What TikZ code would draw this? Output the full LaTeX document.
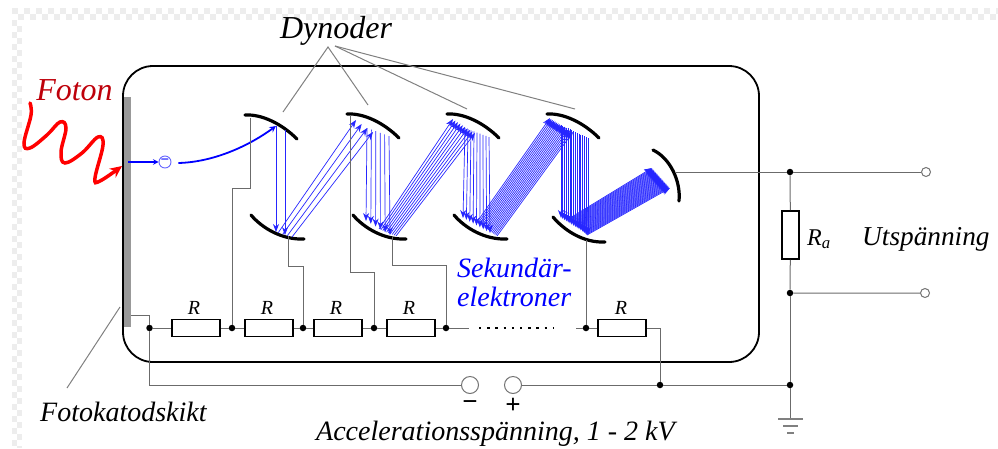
\documentclass[tikz,border=0pt]{standalone}
\usepackage{fontspec}
\setmainfont{Liberation Serif}
\usetikzlibrary{arrows.meta,calc,shapes}

\tikzset{
    wire/.style={draw=black!58, line width=1pt},
    leader/.style={draw=black!50, line width=1pt},
    res/.style={draw, rectangle, line width=1.6pt, fill=white, minimum width=48pt, minimum height=17pt, inner sep=0pt},
    junction/.style={circle, fill=black, minimum size=6.5pt, inner sep=0pt},
    terminal/.style={draw=black!55, circle, fill=white, line width=1pt, inner sep=0pt},
    dynode/.style={line width=3.2pt, line cap=round},
    beam/.style={draw=blue!85, line width=0.7pt, -{Stealth[length=8pt,width=6pt]}},
    caption/.style={font=\itshape\fontsize{28}{30}\selectfont, inner sep=0pt},
    bigcaption/.style={font=\itshape\fontsize{32}{34}\selectfont, inner sep=0pt},
    rname/.style={font=\itshape\fontsize{20}{22}\selectfont, inner sep=0pt},
    sign/.style={font=\bfseries\fontsize{27}{27}\selectfont, inner sep=0pt},
}

% n+1 parallel electrons between two rows of points
\newcommand{\beamset}[5]{
    \foreach \i in {0,...,#5}{
        \draw[beam] ($(#1)!\i/#5!(#2)$) -- ($(#3)!\i/#5!(#4)$);
    }
}

\begin{document}
\begin{tikzpicture}[x=1pt, y=-1pt, >=stealth]
        \useasboundingbox (0,0) rectangle (998,448);

        % transparency pattern along the edge
        \draw[black!7, line width=6pt, dash pattern=on 6pt off 6pt] (12,11) -- (998,11);
        \draw[black!7, line width=6pt, dash pattern=on 6pt off 6pt, dash phase=6pt] (12,17) -- (998,17);
        \draw[black!7, line width=5pt, dash pattern=on 6pt off 6pt] (14.5,20) -- (14.5,448);
        \draw[black!7, line width=5pt, dash pattern=on 6pt off 6pt, dash phase=6pt] (19.5,20) -- (19.5,448);

        % tube and cathode
        \node (tube) [draw, rectangle, rounded corners=30pt, line width=1.8pt, minimum width=636pt, minimum height=296pt, inner sep=0pt] at (441,214) {};
        \node (cathode) [rectangle, fill=black!40, minimum width=7pt, minimum height=230pt, inner sep=0pt] at (127.5,212) {};

        % dynodes
        \coordinate (d1top) at (245,115);
        \coordinate (d1bot) at (251,215);
        \coordinate (d2top) at (347,114);
        \coordinate (d2bot) at (353,215);
        \coordinate (d3top) at (447,114);
        \coordinate (d3bot) at (454,215);
        \coordinate (d4top) at (547,114);
        \coordinate (d4bot) at (553,217);
        \coordinate (anode) at (653,150);
        \draw[dynode] (d1top) .. controls +(17,-1) and +(-15,-15) .. +(52,24);
        \draw[dynode] (d2top) .. controls +(17,-1) and +(-15,-15) .. +(52,24);
        \draw[dynode] (d3top) .. controls +(17,-1) and +(-15,-15) .. +(52,24);
        \draw[dynode] (d4top) .. controls +(17,-1) and +(-15,-15) .. +(52,24);
        \draw[dynode] (d1bot) .. controls +(11,13) and +(-22,1) .. +(53,24);
        \draw[dynode] (d2bot) .. controls +(11,13) and +(-22,1) .. +(53,24);
        \draw[dynode] (d3bot) .. controls +(11,13) and +(-22,1) .. +(53,24);
        \draw[dynode] (d4bot) .. controls +(11,13) and +(-22,1) .. +(52,25);
        \draw[dynode] (anode) .. controls +(17,8) and +(2,-20) .. +(26,51);

        % photon and first electron
        \draw[red, line width=3.5pt, line cap=round, -{Stealth[length=12pt,width=11pt]}] plot[smooth, tension=0.65] coordinates {(30,103) (31,115) (24,143) (30,148) (47,135) (60,122) (66,128) (61,152) (65,163) (82,153) (98,137) (103,145) (95,178) (100,181) (122,166)};
        \node (electron) [draw=blue!60, circle, minimum size=12pt, inner sep=0pt, text=blue, line width=0.9pt, font=\bfseries\fontsize{15}{15}\selectfont] at (165,162) {−};
        \coordinate (emit) at (128,162);
        \coordinate (hit) at (276,126);
        \draw[->, blue, line width=1.4pt] (emit) -- (electron);
        \draw[->, blue, line width=1.8pt] (electron.east)+(7,1) .. controls (215,162) and (250,145) .. (hit);

        % secondary electrons
        \beamset{276,126}{285,130}{276,232}{285,235}{1}
        \beamset{278,233}{292,237}{356,120}{373,132}{3}
        \beamset{367,128}{389,136}{366,221}{390,235}{5}
        \beamset{379,229}{396,236}{453,119}{475,133}{9}
        \beamset{465,128}{489,137}{463,218}{490,233}{8}
        \beamset{477,222}{497,236}{550,118}{573,132}{16}
        \beamset{561,125}{588,138}{561,218}{588,235}{15}
        \beamset{570,218}{587,235}{652,168}{670,188}{28}

        % resistor chain
        \node (j0) [junction] at (149.5,328) {};
        \node (r1) [res] at (196,328) {};
        \node (j1) [junction] at (232,328) {};
        \node (r2) [res] at (269,328) {};
        \node (j2) [junction] at (303,328) {};
        \node (r3) [res] at (338,328) {};
        \node (j3) [junction] at (374,328) {};
        \node (r4) [res] at (411,328) {};
        \node (j4) [junction] at (446,328) {};
        \coordinate (gapl) at (469,328);
        \coordinate (gapr) at (576,328);
        \coordinate (dotsl) at (479,328);
        \coordinate (dotsr) at (553,328);
        \node (j5) [junction] at (586,328) {};
        \node (r5) [res] at (622,328) {};
        \node (j6) [junction] at (660,385) {};
        \draw[line width=2.4pt, dash pattern=on 2.4pt off 5.8pt] (dotsl) -- (dotsr);
        \draw[wire] (j0) -- (r1) -- (j1) -- (r2) -- (j2) -- (r3) -- (j3) -- (r4) -- (j4) -- (gapl);
        \draw[wire] (gapr) -- (j5) -- (r5) -| (j6);

        \node (r1name) [rname] at (194,308) {R};
        \node (r2name) [rname] at (267,308) {R};
        \node (r3name) [rname] at (336,308) {R};
        \node (r4name) [rname] at (409,308) {R};
        \node (r5name) [rname] at (621,308) {R};

        % taps to the dynodes
        \coordinate (tap1) at (250,118);
        \coordinate (tap2) at (288,236);
        \coordinate (tap3) at (350,115);
        \coordinate (tap4) at (392,237);
        \coordinate (tap5) at (586,240);
        \draw[wire] (j1) |- (250,188) -- (tap1);
        \draw[wire] (j2) |- (288,266) -- (tap2);
        \draw[wire] (j3) |- (350,272) -- (tap3);
        \draw[wire] (j4) |- (392,265) -- (tap4);
        \draw[wire] (j5) -- (tap5);

        % supply
        \coordinate (cath) at (131,315);
        \node (minus) [terminal, minimum size=17pt] at (470,385) {};
        \node (plus) [terminal, minimum size=17pt] at (513,385) {};
        \node (j7) [junction] at (790,385) {};
        \draw[wire] (cath) -| (j0);
        \draw[wire] (j0) |- (minus);
        \draw[wire] (plus) -- (j6) -- (j7);
        \node (minussign) [sign] at (470,406) {−};
        \node (plussign) [sign] at (513,406) {+};

        % output
        \coordinate (ancontact) at (675,172);
        \node (j8) [junction] at (790,172) {};
        \node (ra) [res, minimum width=17pt, minimum height=48pt] at (790.5,235) {};
        \node (j9) [junction] at (790,293) {};
        \node (out1) [terminal, minimum size=9pt] at (926,172) {};
        \node (out2) [terminal, minimum size=9pt] at (925,293) {};
        \draw[wire] (ancontact) -- (j8) -- (out1);
        \draw[wire] (j8) -- (ra) -- (j9) -- (out2);
        \draw[wire] (j9) -- (j7);

        % ground
        \coordinate (gnd) at (790,419);
        \draw[wire] (j7) -- (gnd);
        \draw[leader, line width=1.3pt] (778,419) -- (803,419);
        \draw[leader, line width=1.3pt] (783,426) -- (798,426);
        \draw[leader, line width=1.3pt] (787,433) -- (794,433);

        % labels
        \node (dynoder) [bigcaption, anchor=base] at (336,38) {Dynoder};
        \node (foton) [bigcaption, text={rgb,255:red,190;green,0;blue,10}, anchor=base] at (74.5,100) {Foton};
        \node (fotokatod) [caption, anchor=base west] at (40,421) {Fotokatodskikt};
        \node (accel) [caption, anchor=base west] at (316,440) {Accelerationsspänning, 1 - 2 kV};
        \node (utsp) [caption, font=\itshape\fontsize{27.3}{30}\selectfont, anchor=base west] at (862,245) {Utspänning};
        \node (raname) [rname, font=\itshape\fontsize{24}{26}\selectfont, anchor=base west] at (807,245) {R\textsubscript{a}};
        \node (sek1) [caption, text=blue, anchor=base west] at (457,277) {Sekundär-};
        \node (sek2) [caption, text=blue, anchor=base west] at (457,306) {elektroner};

        % leaders from the labels
        \coordinate (dyn1) at (328,47);
        \coordinate (dyn2) at (335,46);
        \coordinate (end1) at (283,112);
        \coordinate (end2) at (368,105);
        \coordinate (end3) at (467,109);
        \coordinate (end4) at (575,109);
        \draw[leader] (end1) -- (dyn1) -- (end2);
        \draw[leader] (dyn2) -- (end3);
        \draw[leader] (dyn2) -- (end4);
        \coordinate (skikt) at (120,307);
        \coordinate (skiktend) at (67,388);
        \draw[leader] (skikt) -- (skiktend);
    \end{tikzpicture}
\end{document}
